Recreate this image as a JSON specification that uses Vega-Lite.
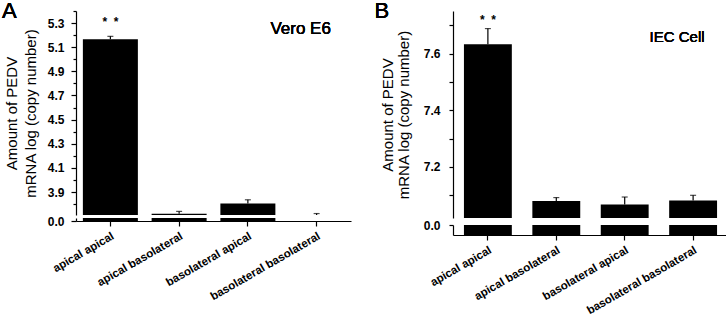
{
  "$schema": "https://vega.github.io/schema/vega-lite/v6.json",
  "padding": {"left": 2, "top": 0, "right": 0, "bottom": 0},
  "config": {
    "font": "Liberation Sans",
    "view": {"stroke": null},
    "axis": {
      "domainColor": "#000", "tickColor": "#000", "labelColor": "#000", "titleColor": "#000",
      "grid": false, "labelFont": "Liberation Sans", "labelFontWeight": "bold", "labelFontSize": 12,
      "titleFont": "Liberation Sans", "titleFontWeight": "normal", "titleFontSize": 15,
      "domainWidth": 1.2, "tickWidth": 1.2
    }
  },
  "datasets": {
    "a": [
      {"group": "apical apical", "mean": 5.165, "upper": 5.19, "sig": "*\u00a0\u00a0*"},
      {"group": "apical basolateral", "mean": 3.72, "upper": 3.74, "sig": ""},
      {"group": "basolateral apical", "mean": 3.805, "upper": 3.836, "sig": ""},
      {"group": "basolateral basolateral", "mean": 3.71, "upper": 3.722, "sig": ""}
    ],
    "b": [
      {"group": "apical apical", "mean": 7.633, "upper": 7.688, "sig": "*\u00a0\u00a0*"},
      {"group": "apical basolateral", "mean": 7.08, "upper": 7.092, "sig": ""},
      {"group": "basolateral apical", "mean": 7.068, "upper": 7.094, "sig": ""},
      {"group": "basolateral basolateral", "mean": 7.082, "upper": 7.1, "sig": ""}
    ]
  },
  "spacing": 23,
  "columns": 2,
  "align": "each",
  "concat": [
    {
      "spacing": 3,
      "bounds": "flush",
      "vconcat": [
        {
          "width": 275, "height": 204,
          "data": {"name": "a"},
          "encoding": {
            "x": {"field": "group", "type": "nominal", "sort": null,
                  "scale": {"domain": ["apical apical", "apical basolateral", "basolateral apical", "basolateral basolateral"], "paddingInner": 0.2, "paddingOuter": 0.1},
                  "axis": null}
          },
          "resolve": {"axis": {"y": "independent"}},
          "layer": [
            {"mark": {"type": "bar", "color": "#000"},
             "encoding": {
               "y": {"field": "mean", "type": "quantitative",
                     "scale": {"domain": [3.71, 5.4], "zero": false, "nice": false, "clamp": true},
                     "axis": {"values": [3.9, 4.1, 4.3, 4.5, 4.7, 4.9, 5.1, 5.3],
                              "format": ".1f", "orient": "left",
                              "tickSize": 5, "labelPadding": 7,
                              "title": ["Amount of PEDV", "mRNA log (copy number)"],
                              "titlePadding": 9, "titleLineHeight": 19}},
               "y2": {"datum": 3.71}
             }},
            {"mark": {"type": "rule", "color": "#000", "strokeWidth": 1.2},
             "encoding": {"y": {"field": "mean", "type": "quantitative",
                                "axis": {"orient": "left", "values": [3.8, 4.0, 4.2, 4.4, 4.6, 4.8, 5.0, 5.2, 5.4], "labels": false, "title": null, "tickSize": 3, "domain": false}},
                          "y2": {"field": "upper"}}},
            {"mark": {"type": "tick", "color": "#000", "thickness": 1.2, "size": 6},
             "encoding": {"y": {"field": "upper", "type": "quantitative", "axis": null}}},
            {"mark": {"type": "text", "dy": -14, "fontSize": 12, "fontWeight": "bold", "color": "#000"},
             "encoding": {"y": {"field": "upper", "type": "quantitative", "axis": null}, "text": {"field": "sig"}}},
            {"mark": {"type": "text", "fontSize": 17, "fontWeight": "normal", "dx": -16, "color": "#000"},
             "encoding": {"x": {"datum": "basolateral basolateral"}, "y": {"datum": 5.25, "axis": null}, "text": {"value": "Vero E6"}}},
            {"mark": {"type": "text", "fontSize": 22, "fontWeight": "normal", "dx": -101, "dy": 0, "baseline": "middle", "color": "#000"},
             "encoding": {"x": {"datum": "apical apical"}, "y": {"datum": 5.4, "axis": null}, "text": {"value": "A"}}}
          ]
        },
        {
          "width": 275, "height": 3,
          "data": {"name": "a"},
          "transform": [{"filter": "datum.mean > 3.71"}],
          "mark": {"type": "bar", "color": "#000"},
          "encoding": {
            "x": {"field": "group", "type": "nominal", "sort": null,
                  "scale": {"domain": ["apical apical", "apical basolateral", "basolateral apical", "basolateral basolateral"], "paddingInner": 0.2, "paddingOuter": 0.1},
                  "axis": {"title": null, "labelAngle": -30, "labelAlign": "right", "labelBaseline": "top", "tickSize": 5, "labelPadding": 4, "labelFontSize": 11.5}},
            "y": {"field": "mean", "type": "quantitative",
                  "scale": {"domain": [0, 1], "nice": false, "clamp": true},
                  "axis": {"values": [0], "format": ".1f", "title": null, "tickSize": 5, "labelPadding": 7}}
          }
        }
      ]
    },
    {
      "spacing": 7,
      "bounds": "flush",
      "vconcat": [
        {
          "width": 275, "height": 207,
          "data": {"name": "b"},
          "encoding": {
            "x": {"field": "group", "type": "nominal", "sort": null,
                  "scale": {"domain": ["apical apical", "apical basolateral", "basolateral apical", "basolateral basolateral"], "paddingInner": 0.3, "paddingOuter": 0.16},
                  "axis": null}
          },
          "resolve": {"axis": {"y": "independent"}},
          "layer": [
            {"mark": {"type": "bar", "color": "#000"},
             "encoding": {
               "y": {"field": "mean", "type": "quantitative",
                     "scale": {"domain": [7.02, 7.75], "zero": false, "nice": false, "clamp": true},
                     "axis": {"values": [7.2, 7.4, 7.6],
                              "format": ".1f", "orient": "left",
                              "tickSize": 4, "labelPadding": 9,
                              "title": ["Amount of PEDV", "mRNA log (copy number)"],
                              "titlePadding": 12, "titleLineHeight": 16}},
               "y2": {"datum": 7.02}
             }},
            {"mark": {"type": "rule", "color": "#000", "strokeWidth": 1.2},
             "encoding": {"y": {"field": "mean", "type": "quantitative",
                                "axis": {"orient": "left", "values": [7.1, 7.3, 7.5, 7.7], "labels": false, "title": null, "tickSize": 4, "domain": false}},
                          "y2": {"field": "upper"}}},
            {"mark": {"type": "tick", "color": "#000", "thickness": 1.2, "size": 6},
             "encoding": {"y": {"field": "upper", "type": "quantitative", "axis": null}}},
            {"mark": {"type": "text", "dy": -9, "fontSize": 12, "fontWeight": "bold", "color": "#000"},
             "encoding": {"y": {"field": "upper", "type": "quantitative", "axis": null}, "text": {"field": "sig"}}},
            {"mark": {"type": "text", "fontSize": 15, "fontWeight": "normal", "dx": -16, "color": "#000"},
             "encoding": {"x": {"datum": "basolateral basolateral"}, "y": {"datum": 7.66, "axis": null}, "text": {"value": "IEC Cell"}}},
            {"mark": {"type": "text", "fontSize": 22, "fontWeight": "normal", "dx": -106, "dy": 0, "baseline": "middle", "color": "#000"},
             "encoding": {"x": {"datum": "apical apical"}, "y": {"datum": 7.75, "axis": null}, "text": {"value": "B"}}}
          ]
        },
        {
          "width": 275, "height": 10,
          "data": {"name": "b"},
          "mark": {"type": "bar", "color": "#000"},
          "encoding": {
            "x": {"field": "group", "type": "nominal", "sort": null,
                  "scale": {"domain": ["apical apical", "apical basolateral", "basolateral apical", "basolateral basolateral"], "paddingInner": 0.3, "paddingOuter": 0.16},
                  "axis": {"title": null, "labelAngle": -30, "labelAlign": "right", "labelBaseline": "top", "tickSize": 5, "labelPadding": 4, "labelFontSize": 11.5}},
            "y": {"field": "mean", "type": "quantitative",
                  "scale": {"domain": [0, 1], "nice": false, "clamp": true, "reverse": true},
                  "axis": {"values": [0], "format": ".1f", "title": null, "tickSize": 4, "labelPadding": 9}}
          }
        }
      ]
    }
  ]
}
